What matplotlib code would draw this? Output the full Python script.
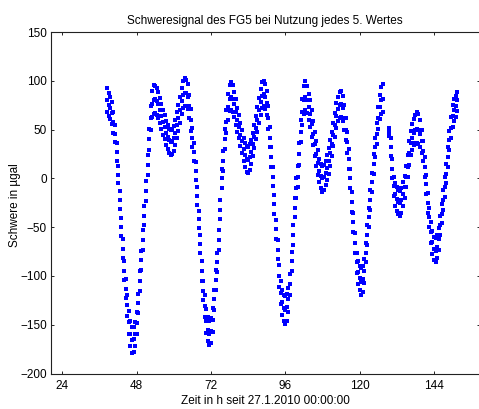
import numpy as np
import matplotlib
matplotlib.use("Agg")
import matplotlib.pyplot as plt

plt.rcParams['font.family'] = ['Liberation Sans', 'DejaVu Sans']

# Abschnitt A: Messung von 38.5 h bis 127.5 h, Halbstundenraster
start_a = 38.5
schwere_a = [
    80, 75, 72, 67, 58, 46, 27, 4, -22, -50, -72, -95, -113, -130, -147, -159,
    -166, -165, -159, -148, -128, -105, -84, -63, -38, -13, 14, 40, 62, 76, 80, 81,
    79, 76, 70, 64, 58, 53, 47, 43, 39, 37, 38, 41, 47, 55, 62, 70,
    79, 86, 88, 88, 84, 74, 60, 42, 27, 8, -18, -42, -67, -95, -115, -131,
    -146, -155, -159, -156, -145, -124, -104, -86, -63, -32, 0, 18, 40, 58, 73, 82,
    84, 82, 76, 68, 60, 53, 45, 38, 30, 24, 20, 19, 22, 27, 35, 43,
    52, 60, 70, 78, 85, 87, 84, 77, 62, 42, 22, 2, -26, -52, -73, -100,
    -117, -127, -133, -135, -132, -124, -108, -85, -58, -30, -10, 2, 25, 48, 68, 80,
    84, 80, 73, 66, 56, 46, 35, 25, 16, 8, 3, 0, 2, 6, 11, 18,
    26, 35, 45, 55, 64, 71, 75, 76, 72, 62, 50, 37, 20, 0, -24, -45,
    -66, -86, -96, -102, -106, -103, -95, -76, -58, -40, -22, -4, 15, 32, 46, 62,
    73, 80, 82,
]
oben_a = [
    93, 88, 84, 78, 68, 55, 36, 13, -13, -41, -62, -85, -103, -120, -136, -146,
    -152, -152, -147, -137, -118, -95, -74, -53, -28, -3, 24, 51, 74, 90, 96, 95,
    93, 89, 83, 76, 70, 65, 59, 55, 51, 50, 51, 54, 60, 68, 75, 84,
    93, 100, 103, 101, 97, 86, 71, 52, 36, 17, -9, -33, -58, -85, -105, -120,
    -134, -142, -146, -143, -133, -114, -94, -76, -53, -22, 10, 28, 51, 70, 87, 96,
    99, 96, 89, 81, 72, 65, 57, 50, 42, 36, 33, 32, 35, 39, 47, 55,
    64, 73, 83, 92, 99, 100, 97, 90, 74, 53, 32, 12, -17, -43, -63, -89,
    -105, -114, -119, -121, -118, -112, -98, -75, -48, -20, 0, 13, 36, 60, 82, 95,
    100, 95, 87, 80, 70, 59, 48, 38, 29, 20, 15, 13, 14, 18, 24, 31,
    39, 48, 57, 67, 77, 84, 89, 90, 85, 75, 62, 48, 30, 10, -14, -35,
    -56, -76, -85, -90, -92, -90, -83, -66, -48, -30, -12, 6, 25, 42, 57, 73,
    86, 94, 97,
]
unten_a = [
    68, 64, 61, 56, 47, 37, 18, -5, -31, -59, -82, -104, -123, -141, -159, -172,
    -179, -178, -172, -160, -138, -115, -94, -73, -48, -23, 4, 29, 50, 63, 66, 67,
    65, 62, 57, 51, 45, 40, 34, 30, 26, 24, 25, 28, 34, 42, 49, 57,
    66, 72, 74, 74, 71, 62, 49, 32, 18, -2, -27, -51, -76, -105, -125, -142,
    -158, -167, -171, -169, -157, -135, -114, -96, -73, -42, -10, 8, 30, 47, 60, 69,
    70, 68, 63, 55, 48, 41, 33, 26, 18, 12, 7, 6, 9, 15, 23, 31,
    40, 48, 57, 65, 72, 74, 71, 65, 51, 32, 12, -8, -36, -62, -83, -111,
    -129, -140, -146, -149, -146, -137, -119, -95, -68, -40, -20, -9, 14, 37, 55, 66,
    70, 67, 60, 53, 43, 34, 23, 13, 4, -4, -10, -14, -12, -7, -2, 5,
    13, 23, 33, 43, 52, 59, 62, 63, 59, 50, 39, 26, 10, -10, -34, -55,
    -76, -97, -108, -114, -119, -116, -107, -86, -68, -50, -32, -14, 5, 22, 35, 51,
    61, 66, 68,
]

# Abschnitt B: Messung von 129.5 h bis 151.5 h
start_b = 129.5
schwere_b = [
    48, 32, 10, -8, -16, -21, -24, -25, -22, -16, -9, 2, 12, 26, 36, 42,
    47, 50, 51, 50, 46, 38, 28, 12, -6, -25, -40, -55, -65, -72, -74, -70,
    -62, -48, -36, -22, -9, 5, 22, 39, 52, 64, 70, 74, 80,
]
oben_b = [
    52, 41, 20, 2, -5, -9, -12, -13, -10, -4, 3, 13, 24, 38, 49, 56,
    61, 65, 68, 66, 60, 50, 38, 22, 4, -15, -30, -45, -54, -60, -61, -58,
    -51, -38, -26, -12, 1, 15, 32, 49, 63, 75, 81, 85, 89,
]
unten_b = [
    44, 23, 0, -18, -28, -33, -36, -38, -35, -28, -20, -9, 1, 14, 24, 29,
    34, 36, 36, 35, 32, 26, 18, 2, -16, -35, -50, -66, -77, -84, -86, -82,
    -73, -58, -46, -32, -19, -5, 12, 29, 41, 53, 59, 63, 69,
]
schritt = 0.5  # Stunden zwischen zwei Werten

x_ticks = [24, 48, 72, 96, 120, 144]
y_ticks = [-200, -150, -100, -50, 0, 50, 100, 150]

fig = plt.figure(figsize=(4.79, 4.09), dpi=100)
W, H = 479.0, 409.0
ax = fig.add_axes([51 / W, (H - 373.5) / H, 428.5 / W, (373.5 - 32.2) / H])

for start, reihen in ((start_a, (schwere_a, oben_a, unten_a)),
                      (start_b, (schwere_b, oben_b, unten_b))):
    for werte in reihen:
        t = start + schritt * np.arange(len(werte))
        ax.plot(t, werte, linestyle='none', marker='s', markersize=2.2,
                markeredgewidth=0, color='#0000ff')

ax.set_xlim(20.34, 158.7)
ax.set_ylim(-200, 150)
ax.set_xticks(x_ticks)
ax.set_yticks(y_ticks)
ax.tick_params(direction='in', length=2.5, width=0.6, top=True, right=True,
               labelsize=8.5, colors='black')
ax.tick_params(axis='x', pad=5)
ax.tick_params(axis='y', pad=3)
for sp in ax.spines.values():
    sp.set_linewidth(0.8)
    sp.set_color('#222222')

ax.set_title('Schweresignal des FG5 bei Nutzung jedes 5. Wertes', fontsize=8.5, pad=6)
ax.set_xlabel('Zeit in h seit 27.1.2010 00:00:00', fontsize=8.5, labelpad=2)
ax.set_ylabel('Schwere in µgal', fontsize=8.5, va='center')
ax.yaxis.set_label_coords(-0.084, 0.494)

fig.savefig('out.png', dpi=100)
